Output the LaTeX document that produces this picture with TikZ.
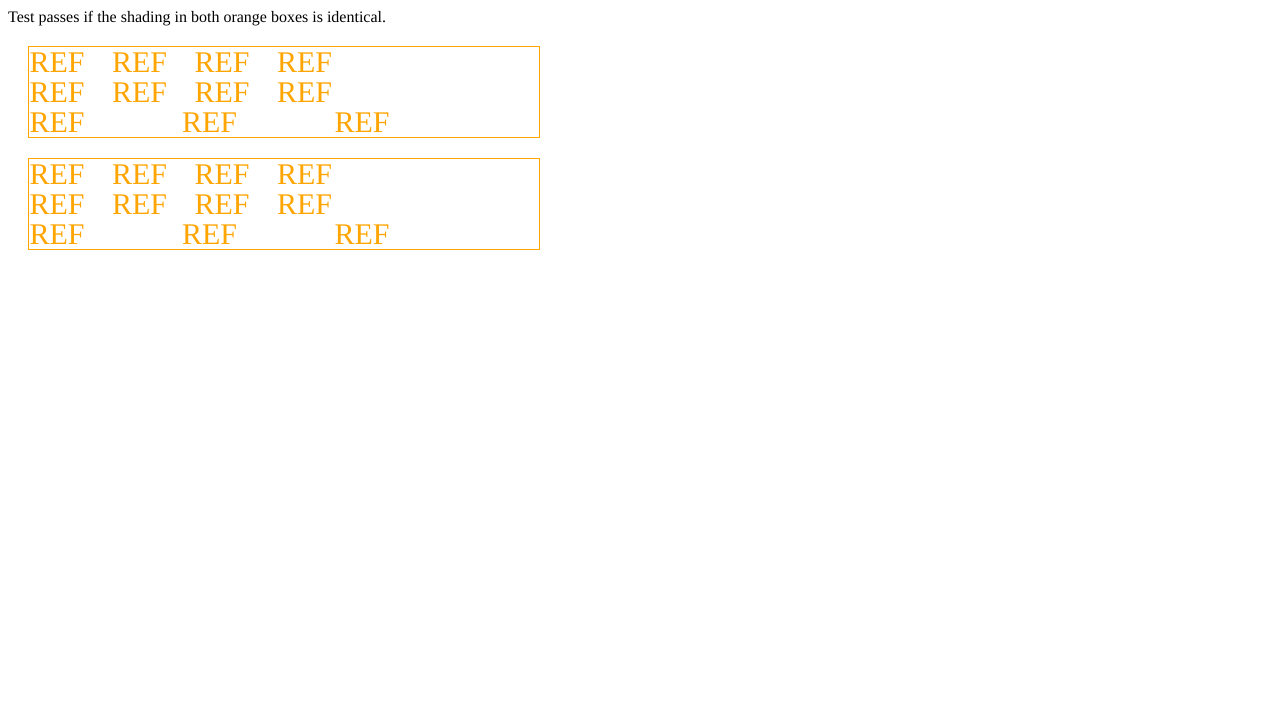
\documentclass[tikz,border=0pt]{standalone}
\usepackage{fontspec}
\setmainfont{Liberation Serif}
\definecolor{cssorange}{RGB}{255,165,0}
\tikzset{
  reftext/.style={anchor=base west, inner sep=0pt, outer sep=0pt, text=cssorange, font=\fontsize{30}{30}\selectfont},
  orangebox/.style={draw=cssorange, line width=1pt},
  titletext/.style={anchor=base west, inner sep=0pt, font=\fontsize{16}{19}\selectfont}
}
\begin{document}
\begin{tikzpicture}[x=1pt,y=-1pt]
\useasboundingbox[fill=white] (0,0) rectangle (1280,720);
\node[titletext] (title) at (8,22) {Test passes if the shading in both orange boxes is identical.};
\foreach \bx/\oy in {a/0,b/112}{
  \draw[orangebox] (28.5,46.5+\oy) rectangle (539.5,137.5+\oy);
  \foreach \c/\xx in {1/29.5,2/112,3/194.5,4/277}{
    \node[reftext] (\bx r1c\c) at (\xx,72.5+\oy) {REF};
    \node[reftext] (\bx r2c\c) at (\xx,102.5+\oy) {REF};
  }
  \foreach \c/\xx in {1/29.5,2/182,3/334.5}{
    \node[reftext] (\bx r3c\c) at (\xx,132.5+\oy) {REF};
  }
}
\end{tikzpicture}
\end{document}
